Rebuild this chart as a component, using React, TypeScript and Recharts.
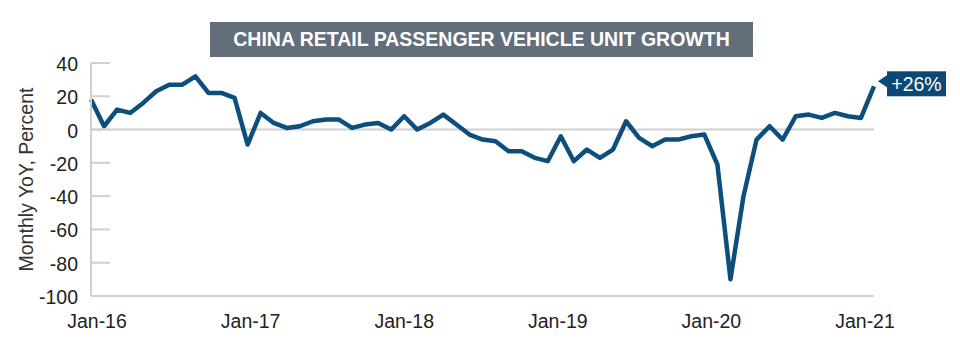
import { LabelList, Line, LineChart, ReferenceLine, XAxis, YAxis } from "recharts"

const years = ["16", "17", "18", "19", "20"]
const monthNames = ["Jan", "Feb", "Mar", "Apr", "May", "Jun", "Jul", "Aug", "Sep", "Oct", "Nov", "Dec"]
const months = [...years.flatMap((y) => monthNames.map((m) => `${m}-${y}`)), "Jan-21"]

// Monatliche Veränderung ggü. Vorjahr, in Prozent
const growth = [
  18, 2, 12, 10, 16, 23, 27, 27, 32, 22, 22, 19,
  -9, 10, 4, 1, 2, 5, 6, 6, 1, 3, 4, 0,
  8, 0, 4, 9, 3, -3, -6, -7, -13, -13, -17, -19,
  -4, -19, -12, -17, -12, 5, -5, -10, -6, -6, -4, -3,
  -21, -90, -40, -6, 2, -6, 8, 9, 7, 10, 8, 7, 26,
]
const yTicks = [-100, -80, -60, -40, -20, 0, 20, 40]
const lastLabel = "+26%"

const data = months.map((m, i) => ({ month: m, v: growth[i] }))

const FONT = '"Liberation Sans", Arial, Helvetica, sans-serif'
const GRID = "#d0d0d0"
const LINE = "#0c4f7c"
const PLOT_LEFT = 91

function YTick({ x, y, payload }: any) {
  return (
    <g>
      <line x1={PLOT_LEFT} x2={PLOT_LEFT + 19} y1={y} y2={y} stroke={GRID} strokeWidth={2} />
      <text x={x} y={y} dy={8} textAnchor="end" fill="#222" fontSize={19.5} fontFamily={FONT}>
        {payload.value}
      </text>
    </g>
  )
}

// Jahreslabels sitzen im Original etwas enger als die Monatspunkte
function XTick({ x, y, payload, index }: any) {
  return (
    <text x={x + 6 - 3 * index} y={y} dy={13.5} textAnchor="middle" fill="#222" fontSize={19.5} fontFamily={FONT}>
      {payload.value}
    </text>
  )
}

function EndLabel({ x, y, index }: any) {
  if (index !== growth.length - 1) return null
  const bx = x + 13
  const by = y - 15
  return (
    <g>
      <polygon points={`${x + 4},${y - 5} ${bx},${y - 11} ${bx},${y + 1}`} fill="#0b4873" />
      <rect x={bx} y={by} width={59} height={25} fill="#0b4873" />
      <text x={bx + 29.5} y={y + 5} textAnchor="middle" fill="#fff" fontSize={19.5} fontFamily={FONT}>
        {lastLabel}
      </text>
    </g>
  )
}

export default function App() {
  return (
    <div style={{ position: "absolute", left: 0, top: 0, width: 960, height: 352, background: "#fff", fontFamily: FONT }}>
      <div
        style={{
          position: "absolute", left: 210, top: 22, width: 543, height: 35,
          background: "#636e7b", color: "#fff", fontWeight: 700, fontSize: 19.5,
          lineHeight: "35px", textAlign: "center", whiteSpace: "nowrap",
        }}
      >
        CHINA RETAIL PASSENGER VEHICLE UNIT GROWTH
      </div>
      <LineChart width={960} height={352} data={data} margin={{ top: 63, right: 86, bottom: 26, left: 0 }}>
        <XAxis dataKey="month" interval={11} height={30} tickSize={0} tickMargin={18} tickLine={false}
          axisLine={{ stroke: GRID, strokeWidth: 2 }} tick={<XTick />} />
        <YAxis domain={[-100, 40]} ticks={yTicks} width={91} tickSize={0} tickMargin={13} tickLine={false}
          axisLine={{ stroke: GRID, strokeWidth: 2 }} tick={<YTick />}
          label={{ value: "Monthly YoY, Percent", angle: -90, position: "insideLeft", offset: 26,
            style: { textAnchor: "middle", fill: "#333", fontSize: 19.5, fontFamily: FONT } }} />
        <ReferenceLine y={0} stroke={GRID} strokeWidth={2} />
        <Line type="linear" dataKey="v" stroke={LINE} strokeWidth={4.5} dot={false} isAnimationActive={false}
          strokeLinejoin="round">
          <LabelList dataKey="v" content={<EndLabel />} />
        </Line>
      </LineChart>
    </div>
  )
}
